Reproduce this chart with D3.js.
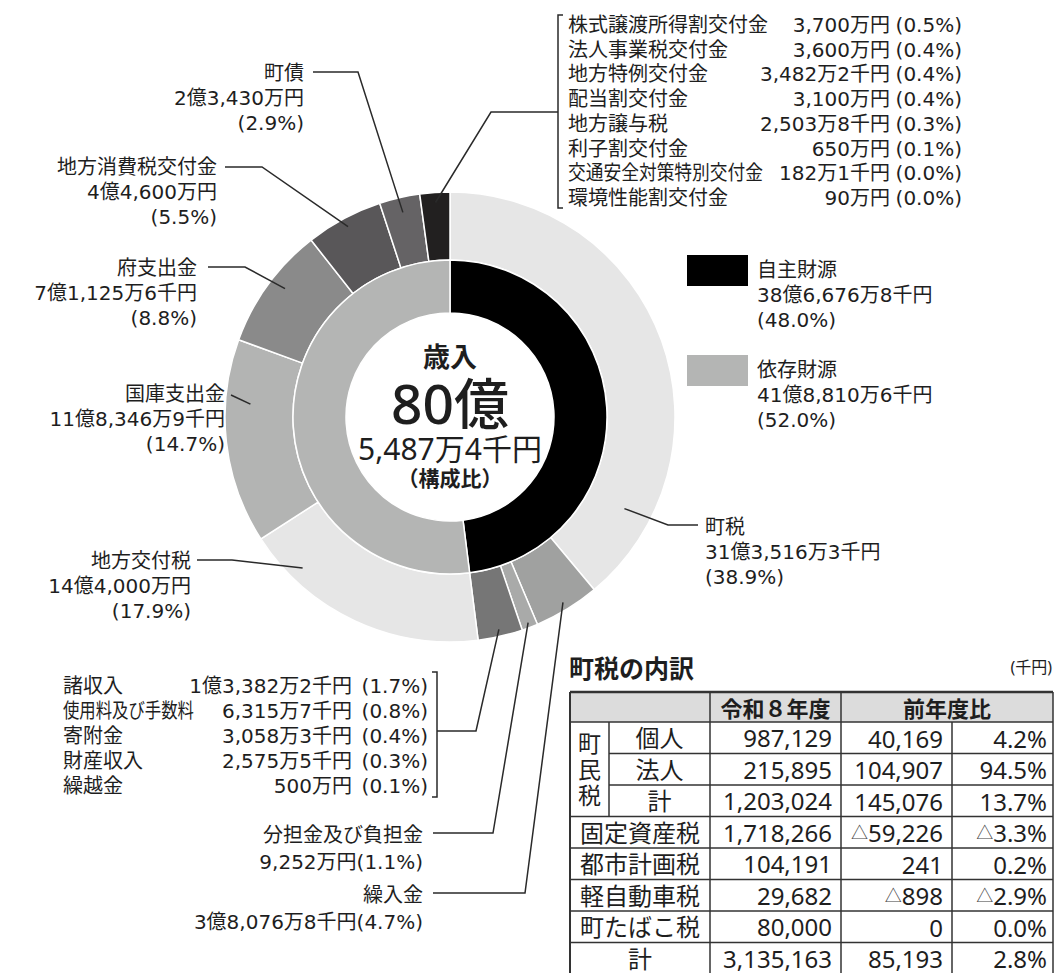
<!DOCTYPE html>
<html lang="ja">
<head>
<meta charset="utf-8">
<script src="https://cdn.jsdelivr.net/npm/d3@7"></script>
<style>
  html, body { margin: 0; padding: 0; background: #fff; }
  svg { display: block; font-family: "Noto Sans", "Noto Sans CJK JP", sans-serif; }
  text { fill: #1e1e1e; }
  text.lbl { font-family: "DejaVu Sans", "Noto Sans CJK JP", sans-serif; }
</style>
</head>
<body>
<div id="chart"></div>
<script>
// 歳入の内訳（単位：千円）
const ownItems = ["諸収入", "使用料及び手数料", "寄附金", "財産収入", "繰越金"];
const ownItemValues = [133822, 63157, 30583, 25755, 5000];

const depItems = ["株式譲渡所得割交付金", "法人事業税交付金", "地方特例交付金", "配当割交付金",
                  "地方譲与税", "利子割交付金", "交通安全対策特別交付金", "環境性能割交付金"];
const depItemValues = [37000, 36000, 34822, 31000, 25038, 6500, 1821, 900];

const outerNames = ["町税", "繰入金", "分担金及び負担金", "諸収入ほか",
                    "地方交付税", "国庫支出金", "府支出金", "地方消費税交付金", "町債", "交付金ほか"];
const outerValues = [3135163, 380768, 92520, d3.sum(ownItemValues),
                     1440000, 1183469, 711256, 446000, 234300, d3.sum(depItemValues)];
const outerSource = ["自主財源", "自主財源", "自主財源", "自主財源",
                     "依存財源", "依存財源", "依存財源", "依存財源", "依存財源", "依存財源"];
const innerNames = ["自主財源", "依存財源"];

// 町税の内訳（千円）
const taxItems = ["個人", "法人", "計", "固定資産税", "都市計画税", "軽自動車税", "町たばこ税", "計"];
const taxCurrent = [987129, 215895, 1203024, 1718266, 104191, 29682, 80000, 3135163];
const taxDiff = [40169, 104907, 145076, -59226, 241, -898, 0, 85193];
const taxRate = [4.2, 94.5, 13.7, -3.3, 0.2, -2.9, 0.0, 2.8];

// ---- styles ----
const outerColors = ["#e6e6e6", "#a0a1a0", "#a9aaa9", "#767676",
                     "#e6e6e6", "#b3b4b3", "#8a8a8a", "#595759", "#656365", "#222020"];
const innerColors = ["#000000", "#b4b5b4"];

const W = 1055, H = 973;
const cx = 450, cy = 417;
const rHole = 104, rMid = 157, rOut = 225;

const total = d3.sum(outerValues);
const innerValues = innerNames.map(n => d3.sum(outerValues.filter((v, i) => outerSource[i] === n)));

function yen(v) {
  const oku = Math.floor(v / 100000), man = Math.floor(v % 100000 / 10), sen = v % 10;
  return (oku ? oku + "億" : "") + (man ? d3.format(",")(man) + "万" : "") + (sen ? sen + "千" : "") + "円";
}
function pct(v) { return "(" + (v / total * 100).toFixed(1) + "%)"; }

const svg = d3.select("#chart").append("svg")
  .attr("width", W).attr("height", H);

const g = svg.append("g").attr("transform", `translate(${cx},${cy})`);

const pie = d3.pie().sort(null);
const outerArcs = pie(outerValues);
const innerArcs = pie(innerValues);

const outerColor = d3.scaleOrdinal(outerNames, outerColors);
const innerColor = d3.scaleOrdinal(innerNames, innerColors);

const arcOuter = d3.arc().innerRadius(rMid).outerRadius(rOut);
const arcInner = d3.arc().innerRadius(rHole).outerRadius(rMid);

g.selectAll(".outer").data(outerArcs).enter().append("path")
  .attr("class", "outer")
  .attr("d", arcOuter)
  .attr("fill", (d, i) => outerColor(outerNames[i]))
  .attr("stroke", "#fff").attr("stroke-width", 1.5);

g.selectAll(".inner").data(innerArcs).enter().append("path")
  .attr("class", "inner")
  .attr("d", arcInner)
  .attr("fill", (d, i) => innerColor(innerNames[i]))
  .attr("stroke", "#fff").attr("stroke-width", 1.5);

// center text
g.append("text").attr("y", -61).attr("text-anchor", "middle").attr("dominant-baseline", "central")
  .attr("font-size", 27).attr("font-weight", "bold").text("歳入");
g.append("text").attr("y", -15).attr("text-anchor", "middle").attr("dominant-baseline", "central")
  .attr("font-size", 55).attr("font-weight", 500).text(Math.floor(total / 100000) + "億");
g.append("text").attr("y", 31).attr("text-anchor", "middle").attr("dominant-baseline", "central")
  .attr("font-size", 30).text(yen(total % 100000));
g.append("text").attr("y", 61).attr("text-anchor", "middle").attr("dominant-baseline", "central")
  .attr("font-size", 21).attr("font-weight", "bold").text("（構成比）");

// point inside a slice: t = fraction across the slice, r = radius
function inside(d, t, r) {
  const a = d.startAngle + (d.endAngle - d.startAngle) * t;
  return [cx + r * Math.sin(a), cy - r * Math.cos(a)];
}

// label layout per outer slice
const labelLayout = [
  { anchor: "start", x: 705, y: 527, t: 0.84, r: 197, elbow: [[668, 525], [698, 525]], lines: "3" },
  { anchor: "end", x: 423, y: 895, t: 0.5, r: 217, elbow: [[525, 893], [433, 893]], lines: "2" },
  { anchor: "end", x: 423, y: 835, t: 0.5, r: 220, elbow: [[493, 833], [433, 833]], lines: "2" },
  { t: 0.5, r: 218, elbow: [[476, 731], [437, 731]] },
  { anchor: "end", x: 191, y: 561, t: 0.8, r: 211, elbow: [[232, 560], [197, 560]], lines: "3" },
  { anchor: "end", x: 225, y: 394, t: 0.69, r: 200, elbow: [[231, 395]], lines: "3" },
  { anchor: "end", x: 197, y: 268, t: 0.56, r: 209, elbow: [[245, 267], [208, 267]], lines: "3" },
  { anchor: "end", x: 217, y: 167, t: 0.5, r: 216, elbow: [[262, 167], [225, 167]], lines: "3" },
  { anchor: "end", x: 304, y: 73, t: 0.5, r: 210, elbow: [[358, 72], [313, 72]], lines: "3" },
  { t: 0.5, r: 215, elbow: [[491, 112], [558, 112]] }
];

const line = d3.line();
outerArcs.forEach((d, i) => {
  const L = labelLayout[i];
  svg.append("path")
    .attr("d", line([inside(d, L.t, L.r)].concat(L.elbow)))
    .attr("fill", "none").attr("stroke", "#2a2a2a").attr("stroke-width", 1.5);
  if (!L.lines) return;
  const rows = L.lines === "3"
    ? [outerNames[i], yen(outerValues[i]), pct(outerValues[i])]
    : [outerNames[i], yen(outerValues[i]) + pct(outerValues[i])];
  const lh = L.lines === "3" ? 25 : 27;
  rows.forEach((s, k) => {
    svg.append("text").attr("class", "lbl")
      .attr("x", L.x).attr("y", L.y + k * lh)
      .attr("text-anchor", L.anchor).attr("dominant-baseline", "central")
      .attr("font-size", 20).text(s);
  });
});

// grouped item lists with brackets
function itemList(names, values, x0, xAmt, xPct, y0, step, bx, by0, by1, tickDir, squeeze) {
  const gl = svg.append("g");
  names.forEach((n, i) => {
    const y = y0 + i * step;
    const t = gl.append("text").attr("class", "lbl").attr("x", x0).attr("y", y)
      .attr("dominant-baseline", "central").attr("font-size", 20).text(n);
    if (squeeze[n]) t.attr("textLength", squeeze[n]).attr("lengthAdjust", "spacingAndGlyphs");
    gl.append("text").attr("class", "lbl").attr("x", xAmt).attr("y", y).attr("text-anchor", "end")
      .attr("dominant-baseline", "central").attr("font-size", 20).text(yen(values[i]));
    gl.append("text").attr("class", "lbl").attr("x", xPct).attr("y", y).attr("text-anchor", "end")
      .attr("dominant-baseline", "central").attr("font-size", 20).text(pct(values[i]));
  });
  gl.append("path")
    .attr("d", line([[bx + tickDir, by0], [bx, by0], [bx, by1], [bx + tickDir, by1]]))
    .attr("fill", "none").attr("stroke", "#2a2a2a").attr("stroke-width", 1.5);
}

itemList(depItems, depItemValues, 568, 890, 962, 25, 24.7, 558, 15, 208, 5,
  { "交通安全対策特別交付金": 195 });
itemList(ownItems, ownItemValues, 63, 352, 428, 686, 25, 437, 672, 797, -5,
  { "使用料及び手数料": 131 });

// legend
innerNames.forEach((n, i) => {
  const y = 255 + i * 100;
  svg.append("rect").attr("x", 687).attr("y", y).attr("width", 61).attr("height", 31)
    .attr("fill", innerColor(n));
  [n, yen(innerValues[i]), pct(innerValues[i])].forEach((s, k) => {
    svg.append("text").attr("class", "lbl").attr("x", 757).attr("y", y + 15 + k * 25)
      .attr("dominant-baseline", "central").attr("font-size", 20).text(s);
  });
});

// ---- 町税の内訳 table ----
svg.append("text").attr("x", 569).attr("y", 668).attr("dominant-baseline", "central")
  .attr("font-size", 25).attr("font-weight", "bold").text("町税の内訳");
svg.append("text").attr("x", 1052).attr("y", 667).attr("text-anchor", "end")
  .attr("dominant-baseline", "central").attr("font-size", 16).text("(千円)");

const colX = [570, 609, 710, 841, 952, 1053];
const headTop = 692, headBot = 722;
const rowY = d3.scaleBand().domain(d3.range(taxItems.length)).range([headBot, 974]);
const bw = rowY.bandwidth();
const tbl = svg.append("g");

tbl.append("rect").attr("x", colX[0]).attr("y", headTop)
  .attr("width", colX[5] - colX[0]).attr("height", headBot - headTop).attr("fill", "#dcdcdc");

const hLines = [[colX[0], headTop, colX[5], headTop, 2.5], [colX[0], headBot, colX[5], headBot, 1.5]];
taxItems.forEach((n, i) => {
  if (i === taxItems.length - 1) return;
  const y = rowY(i) + bw;
  hLines.push([i < 2 ? colX[1] : colX[0], y, colX[5], y, 1.5]);
});
const vLines = [
  [colX[0], headTop, colX[0], 975, 2],
  [colX[1], headBot, colX[1], rowY(3), 1.5],
  [colX[2], headTop, colX[2], 975, 1.5],
  [colX[3], headTop, colX[3], 975, 1.5],
  [colX[4], headBot, colX[4], 975, 1.5],
  [colX[5], headTop, colX[5], 975, 1.5]
];
tbl.selectAll(".grid").data(hLines.concat(vLines)).enter().append("line")
  .attr("x1", d => d[0]).attr("y1", d => d[1]).attr("x2", d => d[2]).attr("y2", d => d[3])
  .attr("stroke", "#333").attr("stroke-width", d => d[4]);

tbl.append("text").attr("x", (colX[2] + colX[3]) / 2).attr("y", (headTop + headBot) / 2 + 1)
  .attr("text-anchor", "middle").attr("dominant-baseline", "central")
  .attr("font-size", 22).attr("font-weight", "bold").text("令和８年度");
tbl.append("text").attr("x", (colX[3] + colX[5]) / 2).attr("y", (headTop + headBot) / 2 + 1)
  .attr("text-anchor", "middle").attr("dominant-baseline", "central")
  .attr("font-size", 22).attr("font-weight", "bold").text("前年度比");

["町", "民", "税"].forEach((c, k) => {
  tbl.append("text").attr("x", (colX[0] + colX[1]) / 2).attr("y", (rowY(0) + rowY(3)) / 2 + (k - 1) * 26)
    .attr("text-anchor", "middle").attr("dominant-baseline", "central").attr("font-size", 23).text(c);
});

const fmt = d3.format(",");
function signed(sel, v, s) {
  if (v < 0) sel.append("tspan").attr("font-size", 17).attr("fill", "#444").text("△");
  sel.append("tspan").text(s);
}
taxItems.forEach((n, i) => {
  const y = rowY(i) + bw / 2;
  const lx = i < 3 ? (colX[1] + colX[2]) / 2 : (colX[0] + colX[2]) / 2;
  tbl.append("text").attr("x", lx).attr("y", y).attr("text-anchor", "middle")
    .attr("dominant-baseline", "central").attr("font-size", 24).text(n);
  tbl.append("text").attr("x", colX[3] - 9).attr("y", y).attr("text-anchor", "end")
    .attr("dominant-baseline", "central").attr("font-size", 24).text(fmt(taxCurrent[i]));
  tbl.append("text").attr("x", colX[4] - 9).attr("y", y).attr("text-anchor", "end")
    .attr("dominant-baseline", "central").attr("font-size", 24)
    .call(signed, taxDiff[i], fmt(Math.abs(taxDiff[i])));
  tbl.append("text").attr("x", colX[5] - 6).attr("y", y).attr("text-anchor", "end")
    .attr("dominant-baseline", "central").attr("font-size", 24)
    .call(signed, taxRate[i], Math.abs(taxRate[i]).toFixed(1) + "%");
});
</script>
</body>
</html>
